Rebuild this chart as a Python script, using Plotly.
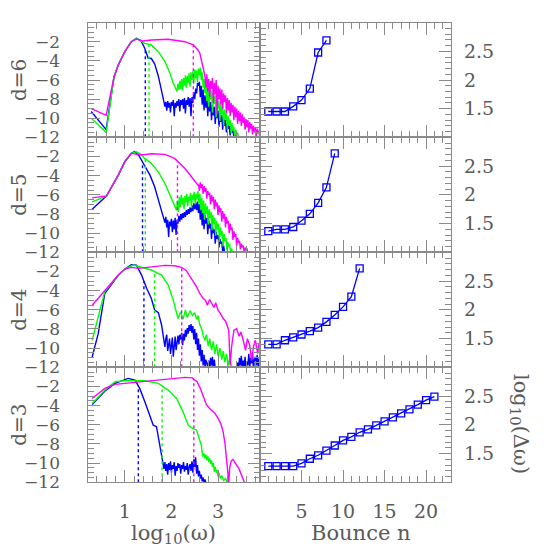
import numpy as np
import plotly.graph_objects as go
from plotly.subplots import make_subplots

BLUE = "#0000ff"
GREEN = "#00ff00"
MAGENTA = "#ff00ff"
FRAME = "#8a8a8a"
TEXT = "#5a5a5a"
FONT = "DejaVu Serif"

W = 554   # figure size in px
OFF = 8   # page body margin, the figure div starts 8px in

# ---- left column: log10 spectra vs log10(omega), one panel per d ----

# d = 6
x6_b = [0.28, 0.60, 0.77, 0.86, 1.00, 1.14, 1.25, 1.35, 1.43, 1.50, 1.57, 1.64, 1.72, 1.79, 1.84,
        1.86, 1.88, 1.90, 1.92, 1.94, 1.96, 1.98, 2.00, 2.02, 2.04, 2.06, 2.08, 2.10, 2.12, 2.14, 2.16,
        2.18, 2.20, 2.22, 2.24, 2.26, 2.28, 2.30, 2.32, 2.34, 2.36, 2.38, 2.40, 2.42, 2.44, 2.46, 2.48,
        2.50, 2.52, 2.54, 2.56, 2.58, 2.60, 2.62, 2.64, 2.66, 2.68, 2.70, 2.72, 2.74, 2.76, 2.78, 2.80,
        2.82, 2.84, 2.86, 2.88, 2.90, 2.92, 2.94, 2.96, 2.98, 3.00, 3.02, 3.04, 3.06, 3.08, 3.10, 3.12,
        3.14, 3.16, 3.18, 3.20, 3.22, 3.24, 3.26, 3.28, 3.30, 3.32, 3.34, 3.36, 3.38]
y6_b = [-9.3, -11.2, -5.65, -4.43, -3.03, -1.99, -1.64, -1.9, -2.7, -3.7, -3.75, -4.3, -5.6, -7.0, -8.3,
        -8.8, -8.3, -9.2, -8.2, -8.9, -8.4, -9.4, -8.3, -8.7, -8.1, -9.8, -8.4, -8.9, -8.2, -8.7, -8.0,
        -9.3, -8.1, -8.6, -8.0, -9.0, -7.9, -9.5, -8.1, -8.6, -7.8, -8.8, -7.9, -9.8, -7.8, -8.4, -7.3,
        -8.0, -6.9, -7.4, -6.3, -6.6, -6.2, -7.8, -6.6, -8.6, -7.0, -9.2, -7.6, -8.9, -7.8, -9.8, -8.1,
        -9.3, -8.3, -10.2, -8.6, -9.7, -8.8, -10.6, -9.0, -10.0, -9.2, -10.9, -9.5, -10.4, -9.7, -11.2, -9.9,
        -10.8, -10.2, -11.5, -10.5, -11.1, -10.8, -11.8, -11.0, -11.5, -11.3, -12.0, -11.6, -12.0]
x6_g = [0.28, 0.60, 0.77, 0.86, 1.00, 1.14, 1.25, 1.32, 1.43, 1.57, 1.72, 1.86, 1.97, 2.04, 2.10,
        2.12, 2.14, 2.16, 2.18, 2.20, 2.22, 2.24, 2.26, 2.28, 2.30, 2.32, 2.34, 2.36, 2.38, 2.40, 2.42,
        2.44, 2.46, 2.48, 2.50, 2.52, 2.54, 2.56, 2.58, 2.60, 2.62, 2.64, 2.66, 2.68, 2.70, 2.72, 2.74,
        2.76, 2.78, 2.80, 2.82, 2.84, 2.86, 2.88, 2.90, 2.92, 2.94, 2.96, 2.98, 3.00, 3.02, 3.04, 3.06,
        3.08, 3.10, 3.12, 3.14, 3.16, 3.18, 3.20, 3.22, 3.24, 3.26, 3.28, 3.30, 3.32, 3.34, 3.36, 3.38,
        3.40, 3.42, 3.44]
y6_g = [-10.0, -11.5, -5.65, -4.43, -3.03, -1.99, -1.62, -1.8, -2.16, -2.33, -3.03, -4.08, -5.3, -6.35, -6.9,
        -7.2, -6.4, -7.0, -6.1, -6.9, -5.9, -7.1, -5.8, -6.6, -5.5, -6.8, -5.6, -6.3, -5.3, -6.7, -5.2,
        -6.0, -5.1, -6.4, -4.9, -5.8, -5.0, -6.2, -4.8, -5.5, -4.7, -6.0, -5.2, -6.8, -5.9, -7.4, -6.3,
        -8.2, -6.6, -8.8, -6.9, -8.0, -7.1, -9.4, -7.4, -8.5, -7.6, -9.9, -7.9, -9.0, -8.2, -10.3, -8.5,
        -9.6, -8.8, -10.8, -9.1, -10.1, -9.5, -11.2, -9.8, -10.7, -10.2, -11.6, -10.5, -11.3, -10.9, -12.0, -11.2,
        -11.8, -11.5, -12.0]
x6_m = [0.28, 0.60, 0.77, 0.86, 1.00, 1.14, 1.25, 1.39, 1.57, 1.93, 2.29, 2.47, 2.56, 2.61, 2.66, 2.70,
        2.72, 2.74, 2.76, 2.78, 2.80, 2.82, 2.84, 2.86, 2.88, 2.90, 2.92, 2.94, 2.96, 2.98, 3.00, 3.02,
        3.04, 3.06, 3.08, 3.10, 3.12, 3.14, 3.16, 3.18, 3.20, 3.22, 3.24, 3.26, 3.28, 3.30, 3.32, 3.34,
        3.36, 3.38, 3.40, 3.42, 3.44, 3.46, 3.48, 3.50, 3.52, 3.54, 3.56, 3.58, 3.60, 3.62, 3.64, 3.66,
        3.68, 3.70, 3.72, 3.74, 3.76, 3.78, 3.80, 3.82, 3.84, 3.86, 3.88, 3.90]
y6_m = [-9.0, -9.7, -5.65, -4.43, -3.03, -1.99, -1.71, -1.92, -1.81, -1.74, -1.99, -2.33, -2.8, -3.2, -4.3, -5.2,
        -5.6, -6.8, -5.4, -7.2, -5.9, -7.8, -6.1, -6.9, -5.8, -8.4, -6.3, -7.5, -6.0, -9.6, -6.6, -8.0,
        -6.9, -8.6, -7.0, -9.0, -7.4, -8.3, -7.6, -9.5, -7.9, -9.2, -8.1, -9.8, -8.4, -9.4, -8.6, -10.2,
        -8.8, -9.9, -9.0, -10.6, -9.2, -10.3, -9.4, -10.8, -9.6, -10.5, -9.9, -11.2, -10.1, -10.9, -10.2, -11.5,
        -10.4, -11.1, -10.6, -11.7, -10.8, -11.4, -11.0, -11.9, -11.1, -11.6, -11.3, -12.0]

# d = 5
x5_b = [0.30, 0.61, 0.86, 1.00, 1.14, 1.21, 1.30, 1.43, 1.54, 1.64, 1.75, 1.82,
        1.86, 1.88, 1.90, 1.92, 1.94, 1.96, 1.98, 2.00, 2.02, 2.04, 2.06, 2.08, 2.10, 2.12, 2.14, 2.16,
        2.18, 2.20, 2.22, 2.24, 2.26, 2.28, 2.30, 2.32, 2.34, 2.36, 2.38, 2.40, 2.42, 2.44, 2.46, 2.48,
        2.50, 2.52, 2.54, 2.56, 2.58, 2.60, 2.62, 2.64, 2.66, 2.68, 2.70, 2.72, 2.74, 2.76, 2.78, 2.80,
        2.82, 2.84, 2.86, 2.88, 2.90, 2.92, 2.94, 2.96, 2.98, 3.00, 3.02, 3.04, 3.06, 3.08, 3.10, 3.12,
        3.14]
y5_b = [-7.51, -6.11, -3.95, -2.55, -1.68, -1.5, -1.9, -3.07, -3.95, -5.17, -7.09, -8.49,
        -8.9, -8.3, -9.4, -8.6, -10.4, -8.8, -9.3, -8.5, -9.9, -8.7, -9.6, -8.4, -10.2, -8.6, -9.0, -8.2,
        -8.8, -8.0, -8.6, -7.9, -8.4, -7.8, -8.3, -7.6, -8.1, -7.5, -8.0, -7.3, -7.8, -7.1, -7.7, -6.9,
        -7.5, -6.8, -7.6, -6.7, -7.9, -7.0, -8.6, -7.4, -9.2, -7.8, -9.6, -8.1, -9.0, -8.4, -10.1, -8.7,
        -9.5, -9.0, -10.6, -9.3, -10.0, -9.6, -11.1, -9.9, -10.6, -10.2, -11.5, -10.6, -11.1, -10.9, -12.0, -11.3,
        -12.0]
x5_g = [0.30, 0.61, 0.86, 1.00, 1.14, 1.25, 1.35, 1.43, 1.57, 1.72, 1.86, 1.97, 2.04, 2.11,
        2.13, 2.15, 2.17, 2.19, 2.21, 2.23, 2.25, 2.27, 2.29, 2.31, 2.33, 2.35, 2.37, 2.39, 2.41, 2.43,
        2.45, 2.47, 2.49, 2.51, 2.53, 2.55, 2.57, 2.59, 2.61, 2.63, 2.65, 2.67, 2.69, 2.71, 2.73, 2.75,
        2.77, 2.79, 2.81, 2.83, 2.85, 2.87, 2.89, 2.91, 2.93, 2.95, 2.97, 2.99, 3.01, 3.03, 3.05, 3.07,
        3.09, 3.11, 3.13, 3.15, 3.17, 3.19, 3.21, 3.23, 3.25, 3.27, 3.29, 3.31]
y5_g = [-6.74, -6.11, -3.95, -2.55, -1.68, -1.5, -1.8, -2.2, -2.73, -3.6, -4.82, -6.04, -6.9, -7.6,
        -6.6, -7.8, -6.2, -7.3, -6.0, -7.0, -6.3, -7.5, -6.1, -6.8, -5.9, -7.2, -6.2, -6.6, -5.8, -7.4,
        -6.0, -6.5, -5.7, -7.0, -5.9, -6.4, -5.6, -6.9, -5.9, -7.6, -6.3, -7.9, -6.6, -8.6, -6.9, -8.0,
        -7.2, -9.1, -7.5, -8.4, -7.8, -9.7, -8.1, -9.0, -8.4, -10.3, -8.7, -9.6, -9.0, -10.9, -9.4, -10.2,
        -9.8, -11.4, -10.1, -10.8, -10.5, -11.8, -10.9, -11.4, -11.2, -12.0, -11.6, -12.0]
x5_m = [0.30, 0.61, 0.86, 1.00, 1.14, 1.36, 1.57, 1.86, 2.07, 2.29, 2.43, 2.57,
        2.58, 2.60, 2.62, 2.64, 2.66, 2.68, 2.70, 2.72, 2.74, 2.76, 2.78, 2.80, 2.82, 2.84, 2.86, 2.88,
        2.90, 2.92, 2.94, 2.96, 2.98, 3.00, 3.02, 3.04, 3.06, 3.08, 3.10, 3.12, 3.14, 3.16, 3.18, 3.20,
        3.22, 3.24, 3.26, 3.28, 3.30, 3.32, 3.34, 3.36, 3.38, 3.40, 3.42, 3.44, 3.46, 3.48, 3.50, 3.52,
        3.54, 3.56, 3.58, 3.60, 3.62, 3.64]
y5_m = [-6.32, -6.11, -3.95, -2.55, -1.68, -1.85, -1.71, -1.78, -2.2, -3.25, -4.12, -5.0,
        -4.9, -5.6, -4.7, -5.3, -4.9, -5.9, -5.1, -5.7, -5.3, -6.4, -5.6, -6.0, -5.8, -7.0, -6.0, -6.7,
        -6.2, -7.5, -6.5, -7.2, -6.8, -8.1, -7.1, -7.8, -7.4, -8.8, -7.7, -8.5, -8.0, -9.4, -8.3, -9.0,
        -8.7, -10.0, -9.0, -9.7, -9.4, -10.7, -9.8, -10.4, -10.1, -11.3, -10.5, -11.0, -10.8, -11.7, -11.1, -11.5,
        -11.3, -12.0, -11.5, -11.8, -11.6, -12.0]

# d = 4
x4_b = [0.30, 0.43, 0.57, 0.86, 1.00, 1.14, 1.25, 1.36, 1.47, 1.57, 1.64, 1.72, 1.79, 1.86,
        1.88, 1.90, 1.92, 1.94, 1.96, 1.98, 2.00, 2.02, 2.04, 2.06, 2.08, 2.10, 2.12, 2.14, 2.16, 2.18,
        2.20, 2.22, 2.24, 2.26, 2.28, 2.30, 2.32, 2.34, 2.36, 2.38, 2.40, 2.42, 2.44, 2.46, 2.48, 2.50,
        2.52, 2.54, 2.56, 2.58, 2.60, 2.62, 2.64, 2.66, 2.68, 2.70, 2.72, 2.74, 2.76, 2.78, 2.80, 2.82,
        2.84, 2.86, 2.88, 2.90, 2.92, 2.94, 2.96, 3.00, 3.40, 3.42, 3.44, 3.46, 3.48, 3.50, 3.52, 3.54,
        3.56, 3.58, 3.60, 3.62, 3.64, 3.66, 3.68, 3.70, 3.72, 3.74, 3.76, 3.78, 3.80, 3.82, 3.84, 3.86,
        3.88, 3.90]
y4_b = [-10.93, -8.49, -4.3, -2.4, -1.75, -1.3, -1.35, -2.38, -3.77, -4.82, -6.04, -6.3, -7.61, -9.88,
        -9.0, -8.6, -10.3, -9.4, -9.0, -10.6, -9.2, -8.9, -10.9, -9.4, -8.8, -10.2, -9.0, -8.7, -9.6, -8.6,
        -9.1, -8.4, -9.7, -8.5, -9.2, -8.1, -8.8, -7.9, -8.5, -7.6, -8.2, -7.5, -8.4, -7.7, -9.1, -8.0,
        -9.6, -8.4, -10.2, -9.0, -10.8, -9.6, -11.4, -10.2, -11.8, -10.7, -12.0, -11.2, -11.6, -12.0, -11.3, -12.5,
        -11.0, -11.8, -10.9, -12.4, -11.2, -11.9, -13.0, -13.0, -13.0, -11.5, -12.3, -11.0, -11.8, -10.8, -12.2, -11.3,
        -11.9, -10.9, -12.4, -11.4, -11.8, -10.6, -12.0, -11.0, -11.6, -10.5, -12.3, -11.2, -10.9, -11.8, -10.7, -12.0,
        -11.1, -11.5]
x4_g = [0.30, 0.43, 0.57, 0.86, 1.00, 1.18, 1.32, 1.57, 1.79, 1.93, 2.04, 2.14, 2.20, 2.25, 2.30,
        2.34, 2.40, 2.45, 2.50, 2.54, 2.57, 2.61, 2.65, 2.68, 2.72, 2.75, 2.79, 2.82, 2.86, 2.90, 2.93,
        2.97, 3.00, 3.04, 3.08, 3.11, 3.15, 3.18, 3.22, 3.25, 3.29]
y4_g = [-9.18, -6.74, -4.12, -2.38, -1.75, -1.33, -1.5, -1.85, -2.38, -3.42, -4.99, -6.91, -6.2, -7.0, -6.0,
        -6.8, -6.1, -6.6, -6.3, -7.0, -6.6, -7.6, -8.0, -8.7, -9.2, -8.6, -9.8, -9.0, -10.2, -9.3, -10.6,
        -9.6, -10.8, -10.0, -11.2, -10.3, -11.5, -10.6, -11.8, -11.1, -12.0]
x4_m = [0.30, 0.57, 0.86, 1.00, 1.14, 1.29, 1.57, 1.86, 2.07, 2.22, 2.32, 2.43, 2.54, 2.61, 2.68,
        2.73, 2.77, 2.82, 2.86, 2.91, 2.95, 3.00, 3.06, 3.11, 3.16, 3.20, 3.23, 3.26, 3.29, 3.34, 3.40,
        3.45, 3.49, 3.54, 3.59, 3.63, 3.68, 3.72, 3.76, 3.80, 3.85, 3.88, 3.90]
y4_m = [-5.52, -4.02, -2.38, -1.75, -1.57, -1.68, -1.5, -1.36, -1.4, -1.57, -1.92, -2.73, -3.6, -4.3, -4.82,
        -5.0, -5.52, -4.92, -5.34, -5.76, -5.27, -6.04, -6.46, -6.91, -7.16, -7.61, -8.14, -11.8, -9.88, -8.14, -7.96,
        -8.76, -8.31, -9.18, -10.23, -9.01, -9.71, -11.3, -9.88, -9.18, -10.58, -9.53, -10.23]

# d = 3
x3_b = [0.30, 0.57, 0.79, 1.00, 1.07, 1.22, 1.32, 1.43, 1.54, 1.61, 1.68, 1.75, 1.82,
        1.84, 1.86, 1.88, 1.90, 1.92, 1.94, 1.96, 1.98, 2.00, 2.02, 2.04, 2.06, 2.08, 2.10, 2.12, 2.14,
        2.16, 2.18, 2.20, 2.22, 2.24, 2.26, 2.28, 2.30, 2.32, 2.34, 2.36, 2.38, 2.40, 2.42, 2.44, 2.46,
        2.48, 2.50, 2.52, 2.54, 2.56, 2.58, 2.60, 2.62, 2.64, 2.66, 2.68, 2.70, 2.72, 2.74]
y3_b = [-3.88, -2.5, -1.68, -1.3, -1.16, -1.33, -2.2, -3.6, -4.99, -6.04, -6.2, -8.14, -10.05,
        -10.6, -9.9, -10.8, -10.1, -11.2, -10.0, -10.7, -9.8, -11.0, -10.2, -10.6, -9.9, -11.3, -10.3, -10.8, -10.0,
        -10.5, -10.1, -11.1, -10.2, -10.6, -9.9, -10.9, -10.3, -10.7, -10.0, -11.2, -10.4, -10.1, -10.8, -9.8, -11.0,
        -9.6, -10.4, -9.4, -11.1, -10.2, -11.4, -10.8, -11.6, -11.2, -11.9, -11.5, -12.0, -11.7, -12.1]
x3_g = [0.30, 0.57, 0.79, 1.00, 1.43, 1.72, 1.93, 2.11, 2.25, 2.36, 2.43, 2.54, 2.64, 2.67, 2.70,
        2.72, 2.74, 2.76, 2.78, 2.80, 2.82, 2.84, 2.86, 2.88, 2.90, 2.92, 2.94, 2.96, 2.98, 3.00, 3.02,
        3.05, 3.08, 3.12, 3.16, 3.20, 3.25]
y3_g = [-3.77, -2.4, -1.5, -1.4, -1.4, -1.68, -2.38, -3.25, -4.65, -6.04, -6.3, -6.56, -8.1, -9.3, -9.0,
        -9.5, -9.1, -9.7, -9.3, -9.9, -9.5, -10.1, -9.7, -10.4, -10.0, -10.9, -10.4, -11.0, -10.7, -11.4, -11.0,
        -11.6, -11.3, -11.8, -11.6, -12.0, -12.2]
x3_m = [0.30, 0.57, 0.79, 1.00, 1.43, 1.86, 2.29, 2.45, 2.55, 2.62, 2.68, 2.75, 2.82, 2.93, 3.00,
        3.06, 3.11, 3.15, 3.18, 3.21, 3.23, 3.25, 3.28, 3.32, 3.36, 3.40, 3.45, 3.50, 3.55, 3.58]
y3_m = [-3.25, -2.2, -1.78, -1.68, -1.5, -1.33, -1.05, -1.1, -1.5, -2.2, -2.9, -3.9, -4.3, -4.8, -5.3,
        -5.9, -6.74, -8.0, -9.5, -11.5, -12.0, -10.5, -9.8, -9.6, -9.9, -10.1, -10.6, -11.2, -11.8, -12.2]

# dotted markers, log10(omega) for blue, green, magenta
wc6 = [1.44, 1.52, 2.47]
wc5 = [1.38, 1.44, 2.13]
wc4 = [1.41, 1.64, 2.22]
wc3 = [1.29, 1.80, 2.48]

# ---- right column: log10(delta omega) vs bounce number ----
n6 = [1, 2, 3, 4, 5, 6, 7, 8]
dw6 = [1.45, 1.45, 1.45, 1.54, 1.65, 1.85, 2.48, 2.69]
n5 = [1, 2, 3, 4, 5, 6, 7, 8, 9]
dw5 = [1.37, 1.40, 1.40, 1.44, 1.55, 1.67, 1.86, 2.13, 2.72]
n4 = [1, 2, 3, 4, 5, 6, 7, 8, 9, 10, 11, 12]
dw4 = [1.40, 1.40, 1.47, 1.52, 1.57, 1.63, 1.69, 1.79, 1.91, 2.05, 2.23, 2.72]
n3 = [1, 2, 3, 4, 5, 6, 7, 8, 9, 10, 11, 12, 13, 14, 15, 16, 17, 18, 19, 20, 21]
dw3 = [1.28, 1.28, 1.28, 1.28, 1.33, 1.41, 1.47, 1.55, 1.64, 1.73, 1.79, 1.87, 1.92, 1.99,
       2.06, 2.13, 2.20, 2.27, 2.35, 2.43, 2.49]

d_labels = ["d=6", "d=5", "d=4", "d=3"]
spectra = [
    ((x6_b, y6_b), (x6_g, y6_g), (x6_m, y6_m), wc6),
    ((x5_b, y5_b), (x5_g, y5_g), (x5_m, y5_m), wc5),
    ((x4_b, y4_b), (x4_g, y4_g), (x4_m, y4_m), wc4),
    ((x3_b, y3_b), (x3_g, y3_g), (x3_m, y3_m), wc3),
]
bounces = [(n6, dw6), (n5, dw5), (n4, dw4), (n3, dw3)]

fig = make_subplots(rows=4, cols=2, horizontal_spacing=0, vertical_spacing=0)

colors = [BLUE, GREEN, MAGENTA]
for r, (b, g, m, wc) in enumerate(spectra, start=1):
    curves = [b, g, m]
    for (xs, ys), col in zip(curves, colors):
        fig.add_trace(go.Scatter(x=xs, y=ys, mode="lines",
                                 line=dict(color=col, width=1.4)), row=r, col=1)
    for (xs, ys), col, w in zip(curves, colors, wc):
        top = float(np.interp(w, xs, ys))
        fig.add_trace(go.Scatter(x=[w, w], y=[-12, top], mode="lines",
                                 line=dict(color=col, width=1.4, dash="dot")), row=r, col=1)

for r, (n, dw) in enumerate(bounces, start=1):
    fig.add_trace(go.Scatter(x=n, y=dw, mode="lines+markers",
                             line=dict(color=BLUE, width=1.3),
                             marker=dict(symbol="square-open", size=7,
                                         color=BLUE, line=dict(width=1.3))),
                  row=r, col=2)


def px_x(p):
    return (p - OFF) / W


def px_y(p):
    return 1 - (p - OFF) / W


# panel geometry in page px
x_left, x_mid, x_right = 87.5, 260.0, 451.0
row_edges = [22.7, 137.3, 252.3, 367.3, 482.3]

axis_common = dict(showline=True, linecolor=FRAME, linewidth=1.2, mirror="allticks",
                   ticks="inside", ticklen=12, tickwidth=1, tickcolor=FRAME,
                   showgrid=False, zeroline=False, automargin=False,
                   tickfont=dict(family=FONT, size=19, color=TEXT))

layout = {}
for r in range(4):
    ydom = [px_y(row_edges[r + 1]), px_y(row_edges[r])]
    bottom = r == 3
    ia = 2 * r + 1
    ib = 2 * r + 2
    sa = "" if ia == 1 else str(ia)
    sb = str(ib)
    layout["xaxis" + sa] = dict(axis_common, domain=[px_x(x_left), px_x(x_mid)], range=[0.2, 3.9],
                                tickvals=[1, 2, 3], showticklabels=bottom, ticklabelstandoff=12,
                                minor=dict(ticks="inside", ticklen=6, tickcolor=FRAME,
                                           dtick=0.2, tick0=0))
    layout["yaxis" + sa] = dict(axis_common, domain=ydom, range=[-12, 0],
                                tickvals=[-12, -10, -8, -6, -4, -2], ticklabelstandoff=23,
                                tickfont=dict(family=FONT, size=17, color=TEXT),
                                minor=dict(ticks="inside", ticklen=6, tickcolor=FRAME,
                                           dtick=0.5, tick0=0))
    layout["xaxis" + sb] = dict(axis_common, domain=[px_x(x_mid), px_x(x_right)], range=[0, 23],
                                tickvals=[5, 10, 15, 20], showticklabels=bottom, ticklabelstandoff=12,
                                minor=dict(ticks="inside", ticklen=6, tickcolor=FRAME,
                                           dtick=1, tick0=0))
    layout["yaxis" + sb] = dict(axis_common, domain=ydom, range=[1, 3], side="right",
                                tickvals=[1.5, 2, 2.5], ticktext=["1.5", "2", "2.5"],
                                ticklabelstandoff=8,
                                minor=dict(ticks="inside", ticklen=6, tickcolor=FRAME,
                                           dtick=0.1, tick0=1))

annotations = []
for r, lab in enumerate(d_labels):
    yc = (row_edges[r] + row_edges[r + 1]) / 2
    annotations.append(dict(text=lab, x=px_x(19), y=px_y(yc), xref="paper", yref="paper",
                            xanchor="center", yanchor="middle", showarrow=False, textangle=-90,
                            font=dict(family=FONT, size=20, color=TEXT)))
annotations.append(dict(text="log<sub>10</sub>(ω)", x=px_x(173), y=px_y(534),
                        xref="paper", yref="paper", xanchor="center", yanchor="middle",
                        showarrow=False, font=dict(family=FONT, size=21, color=TEXT)))
annotations.append(dict(text="Bounce n", x=px_x(361), y=px_y(533),
                        xref="paper", yref="paper", xanchor="center", yanchor="middle",
                        showarrow=False, font=dict(family=FONT, size=21, color=TEXT)))
annotations.append(dict(text="log<sub>10</sub>(Δω)", x=px_x(520), y=px_y(424),
                        xref="paper", yref="paper", xanchor="center", yanchor="middle",
                        showarrow=False, textangle=90,
                        font=dict(family=FONT, size=21, color=TEXT)))

fig.update_layout(**layout)
fig.update_layout(width=W, height=W, margin=dict(l=0, r=0, t=0, b=0),
                  paper_bgcolor="white", plot_bgcolor="white",
                  showlegend=False, annotations=annotations)

fig.write_html("out.html")
